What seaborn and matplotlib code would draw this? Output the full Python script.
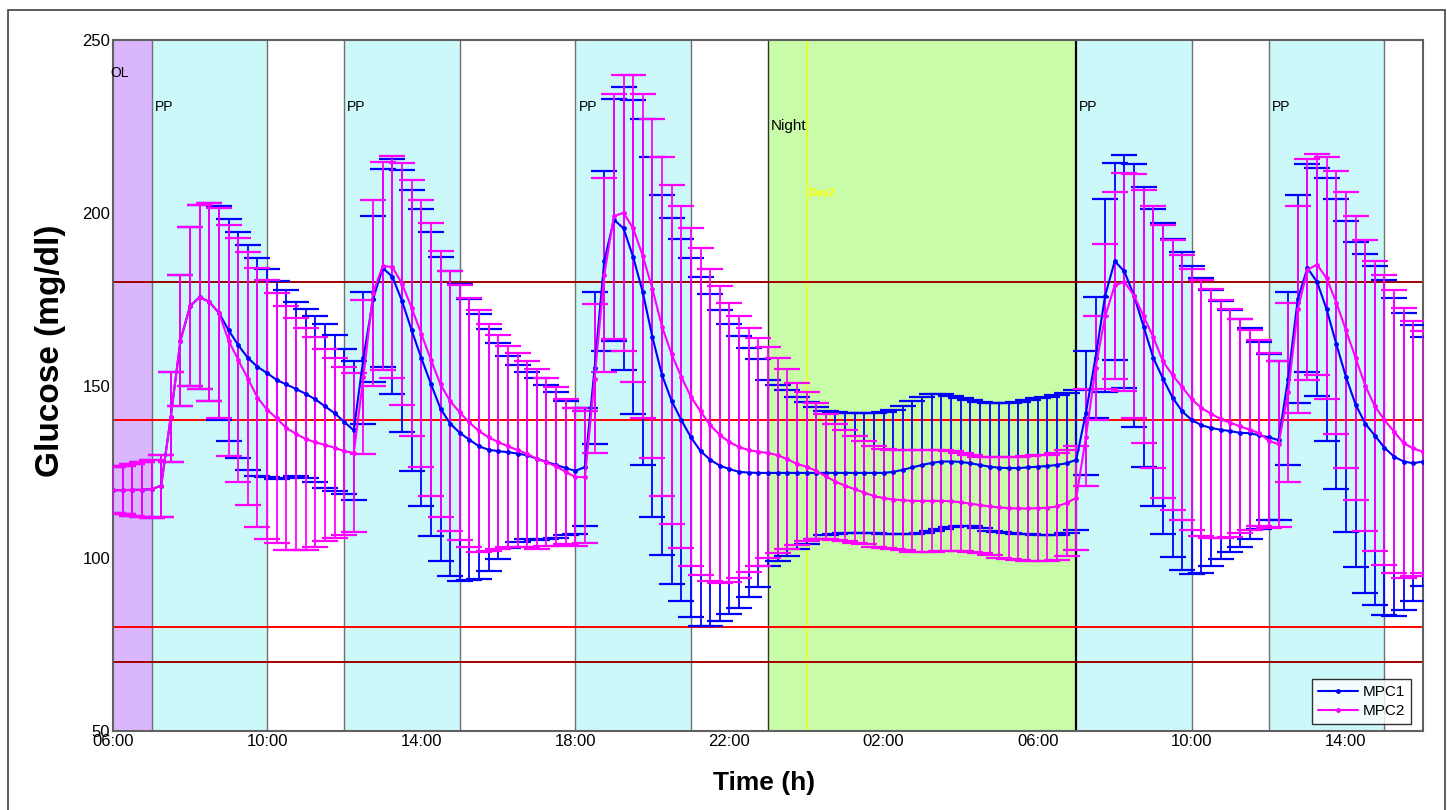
import numpy as np
import pandas as pd
import matplotlib
matplotlib.use('Agg')
import matplotlib.pyplot as plt
from matplotlib.patches import Rectangle
import seaborn as sns

sns.set_style('white')
plt.rcParams['font.family'] = ['Liberation Sans', 'DejaVu Sans']
plt.rcParams['text.color'] = 'black'
plt.rcParams['axes.labelcolor'] = 'black'
plt.rcParams['xtick.color'] = 'black'
plt.rcParams['ytick.color'] = 'black'

# sample times: hours after 06:00, every 15 min (06:00 day 1 -> 16:00 day 2)
hours = np.arange(0, 34.25, 0.25)

# mean glucose (mg/dl), 4 samples per hour
mpc1_mean = [
    119.7, 119.7, 119.8, 119.8,  120.0, 121.0, 141.0, 163.0,
    173.0, 175.6, 174.2, 171.0,  166.0, 161.7, 158.0, 155.4,
    153.6, 151.6, 150.3, 149.0,  147.6, 146.0, 144.0, 142.0,
    139.5, 137.0, 158.0, 175.0,  184.0, 181.5, 174.5, 166.0,
    158.0, 150.5, 143.3, 139.0,  136.3, 134.3, 132.4, 131.4,
    131.0, 130.7, 130.3, 129.8,  128.8, 127.9, 127.0, 126.1,
    125.3, 126.4, 155.0, 186.0,  198.0, 195.5, 187.2, 177.0,
    164.0, 153.0, 145.5, 140.0,  135.0, 131.0, 128.5, 126.8,
    125.8, 125.0, 124.8, 124.7,  124.7, 124.7, 124.7, 124.7,
    124.7, 124.7, 124.7, 124.7,  124.7, 124.7, 124.7, 124.7,
    124.7, 125.0, 125.6, 126.3,  127.0, 127.6, 128.0, 128.0,
    127.9, 127.5, 127.0, 126.5,  126.2, 126.1, 126.1, 126.3,
    126.5, 126.7, 127.0, 127.5,  128.5, 142.0, 158.0, 176.0,
    186.0, 183.0, 176.0, 167.0,  158.0, 152.0, 146.5, 142.5,
    140.0, 138.5, 137.7, 137.2,  136.8, 136.3, 136.2, 135.6,
    135.0, 134.2, 152.0, 175.0,  184.0, 180.0, 172.0, 162.0,
    152.5, 144.5, 139.0, 135.5,  132.0, 129.4, 128.0, 127.5,
    128.0]
mpc2_mean = [
    119.7, 119.7, 119.8, 119.8,  120.0, 121.0, 141.0, 163.0,
    173.0, 175.6, 174.2, 171.0,  163.0, 157.4, 152.0, 146.5,
    143.0, 140.5, 137.7, 136.0,  134.5, 133.6, 132.8, 132.0,
    131.0, 130.5, 152.5, 176.8,  184.6, 184.3, 179.5, 172.5,
    165.0, 157.5, 150.3, 145.5,  142.2, 139.3, 136.8, 135.0,
    133.6, 132.4, 131.3, 130.2,  128.8, 127.8, 126.6, 125.0,
    123.5, 123.5, 152.0, 182.0,  199.0, 200.0, 195.5, 187.5,
    178.0, 167.0, 159.0, 152.5,  146.7, 142.5, 138.5, 135.7,
    133.6, 132.2, 131.3, 130.8,  130.5, 129.8, 128.7, 127.3,
    126.5, 125.3, 123.7, 122.2,  121.0, 120.0, 119.0, 118.0,
    117.4, 117.0, 116.8, 116.6,  116.6, 116.6, 116.6, 116.5,
    116.2, 115.8, 115.4, 115.0,  114.7, 114.5, 114.4, 114.4,
    114.5, 114.6, 115.0, 116.0,  117.5, 135.0, 155.0, 170.0,
    179.0, 180.0, 176.0, 170.0,  164.0, 157.0, 153.0, 149.5,
    146.0, 143.5, 141.8, 140.3,  139.2, 138.2, 137.2, 136.2,
    134.0, 133.0, 148.0, 172.0,  183.5, 185.0, 181.0, 174.0,
    166.0, 158.0, 150.0, 144.0,  140.0, 136.6, 133.3, 131.8,
    130.8]

# standard deviation (half error-bar length)
mpc1_sd = [
    6.7, 7.0, 7.5, 8.0,  8.3, 9.0, 13.0, 19.0,
    23.0, 26.5, 28.7, 31.0,  32.2, 32.6, 32.6, 31.5,
    30.0, 28.7, 27.2, 25.2,  24.5, 24.0, 23.8, 22.6,
    21.0, 20.0, 19.0, 24.0,  28.6, 34.0, 38.0, 40.7,
    43.0, 44.0, 44.0, 44.0,  43.0, 40.7, 38.3, 35.0,
    31.3, 27.8, 25.6, 24.2,  23.5, 22.2, 21.2, 19.5,
    18.2, 17.0, 22.0, 26.0,  35.0, 41.0, 45.5, 50.0,
    52.0, 52.0, 53.0, 52.4,  52.0, 50.5, 48.0, 45.0,
    42.0, 39.3, 36.0, 33.0,  27.0, 25.5, 24.0, 22.0,
    20.5, 19.0, 18.0, 17.6,  17.4, 17.3, 17.3, 17.4,
    17.6, 18.0, 18.6, 19.3,  19.8, 19.8, 19.5, 19.0,
    18.6, 18.3, 18.3, 18.5,  18.6, 18.8, 19.0, 19.4,
    19.8, 20.0, 20.2, 20.3,  20.3, 18.0, 17.5, 28.0,
    28.5, 33.7, 38.0, 40.5,  43.0, 45.0, 46.0, 46.0,
    44.7, 42.7, 40.0, 37.4,  35.0, 33.0, 30.5, 27.0,
    24.0, 23.0, 25.0, 30.0,  30.0, 33.0, 38.0, 42.0,
    45.0, 47.0, 49.0, 49.0,  48.5, 46.0, 43.0, 40.0,
    36.0]
mpc2_sd = [
    6.7, 7.0, 7.5, 8.0,  8.3, 9.0, 13.0, 19.0,
    23.0, 26.5, 28.7, 30.5,  33.5, 35.3, 36.5, 37.5,
    37.5, 36.2, 35.3, 33.6,  32.1, 30.4, 27.7, 26.0,
    24.3, 23.0, 22.3, 27.0,  30.0, 32.0, 35.0, 37.0,
    38.6, 39.5, 38.5, 37.5,  37.0, 36.0, 35.1, 32.8,
    31.0, 29.0, 28.0, 27.0,  26.0, 24.3, 23.0, 21.0,
    20.0, 19.0, 21.5, 28.0,  35.5, 40.0, 44.5, 47.0,
    49.0, 49.0, 49.0, 49.5,  49.0, 47.3, 45.2, 43.0,
    40.4, 38.0, 35.3, 33.0,  30.5, 28.2, 26.0, 23.5,
    21.5, 19.7, 18.0, 16.8,  16.0, 15.5, 15.0, 14.6,
    14.3, 14.3, 14.5, 14.7,  14.8, 14.8, 14.6, 14.4,
    14.2, 14.0, 14.0, 14.2,  14.5, 14.8, 15.0, 15.2,
    15.3, 15.4, 15.4, 15.3,  15.0, 14.0, 15.0, 21.0,
    27.0, 31.5, 35.3, 36.6,  38.0, 39.5, 39.0, 38.3,
    37.8, 37.0, 36.0, 34.5,  33.0, 31.0, 29.0, 27.0,
    25.3, 24.0, 26.0, 30.0,  32.0, 32.0, 35.0, 38.0,
    40.0, 41.0, 42.0, 42.0,  42.0, 41.0, 39.0, 37.0,
    35.0]

# phases (open loop, post-prandial, night)
phase_names = ['OL', 'PP', 'PP', 'PP', 'Night', 'PP', 'PP']
phase_start = [0, 1, 6, 12, 17, 25, 30]
phase_end = [1, 4, 9, 15, 25, 28, 33]
phase_colors = ['#DAB6FF', '#CCF8FA', '#CCF8FA', '#CCF8FA', '#C8FCA8',
                '#CCF8FA', '#CCF8FA']

limit_levels = [180, 140, 80, 70]
limit_colors = ['#A00000', '#FF0000', '#FF0000', '#A00000']

tick_hours = [0, 4, 8, 12, 16, 20, 24, 28, 32]
tick_labels = ['06:00', '10:00', '14:00', '18:00', '22:00', '02:00',
               '06:00', '10:00', '14:00']

df = pd.DataFrame({'hours': np.concatenate([hours, hours]),
                   'glucose': mpc1_mean + mpc2_mean,
                   'sd': mpc1_sd + mpc2_sd,
                   'ctrl': ['MPC1'] * len(hours) + ['MPC2'] * len(hours)})
palette = {'MPC1': '#0000FF', 'MPC2': '#FF00FF'}

fig = plt.figure(figsize=(14.5, 8.1), dpi=100)
ax = fig.add_axes([113 / 1450, 1 - 731 / 810, 1310 / 1450, 691 / 810])

# shaded phases + boundaries
for name, x0, x1, col in zip(phase_names, phase_start, phase_end, phase_colors):
    ax.axvspan(x0, x1, color=col, lw=0, zorder=0)
bounds = sorted(set(phase_start[1:] + phase_end))
for b in bounds:
    if b == 25:
        ax.axvline(b, color='black', lw=1.6, zorder=1)
    elif b == 17:
        ax.axvline(b, color='#333333', lw=1.0, zorder=1)
    else:
        ax.axvline(b, color='#707070', lw=1.0, zorder=1)
ax.axvline(18, color='#FFFF00', lw=1.0, zorder=1)

for lvl, col in zip(limit_levels, limit_colors):
    ax.axhline(lvl, color=col, lw=1.4, zorder=2)

# error bars first, MPC2 over MPC1
for ctrl in ['MPC1', 'MPC2']:
    d = df[df.ctrl == ctrl]
    ax.errorbar(d.hours, d.glucose, yerr=d.sd, fmt='none',
                ecolor=palette[ctrl], elinewidth=1.3, capsize=9.5,
                capthick=1.6, zorder=3)

sns.lineplot(data=df, x='hours', y='glucose', hue='ctrl', palette=palette,
             marker='o', markersize=3.5, markeredgewidth=0, linewidth=1.5,
             ax=ax, zorder=4, legend=True)

# phase labels
ax.text(-0.08, 240.5, 'OL', fontsize=10, va='center', ha='left', zorder=5)
for name, x0 in zip(phase_names, phase_start):
    if name == 'PP':
        ax.text(x0 + 0.08, 230.6, name, fontsize=10, va='center',
                ha='left', zorder=5)
    elif name == 'Night':
        ax.text(x0 + 0.06, 225.0, name, fontsize=11, va='center',
                ha='left', zorder=5)
ax.text(18.05, 205.6, 'Day2', fontsize=8, color='#FFFF00', fontweight='bold',
        va='center', ha='left', zorder=5)

ax.set_xlim(0, 34)
ax.set_ylim(50, 250)
ax.set_xticks(tick_hours)
ax.set_xticklabels(tick_labels)
ax.set_yticks([50, 100, 150, 200, 250])
ax.tick_params(length=0, labelsize=12, pad=2)
for s in ax.spines.values():
    s.set_color('#606060')
    s.set_linewidth(1.5)

ax.set_xlabel('Time (h)', fontsize=19, fontweight='bold')
ax.set_ylabel('Glucose (mg/dl)', fontsize=24, fontweight='bold')
ax.xaxis.set_label_coords(0.497, -0.058)
ax.yaxis.set_label_coords(-0.036, 0.55)

leg = ax.legend(loc='lower right', bbox_to_anchor=(0.991, 0.01),
                borderaxespad=0, fontsize=11, frameon=True, fancybox=False,
                edgecolor='black', handlelength=2.6, borderpad=0.4,
                labelspacing=0.3, handletextpad=0.3)
leg.get_frame().set_linewidth(1.0)
for txt in leg.get_texts():
    txt.set_color('black')

# outer frame of the exported picture
fig.patches.append(Rectangle((8 / 1450, -0.02), 1437 / 1450, 1.02 - 10 / 810,
                             transform=fig.transFigure, fill=False,
                             edgecolor='#404040', lw=1.2))

fig.savefig('out.png', dpi=100)
